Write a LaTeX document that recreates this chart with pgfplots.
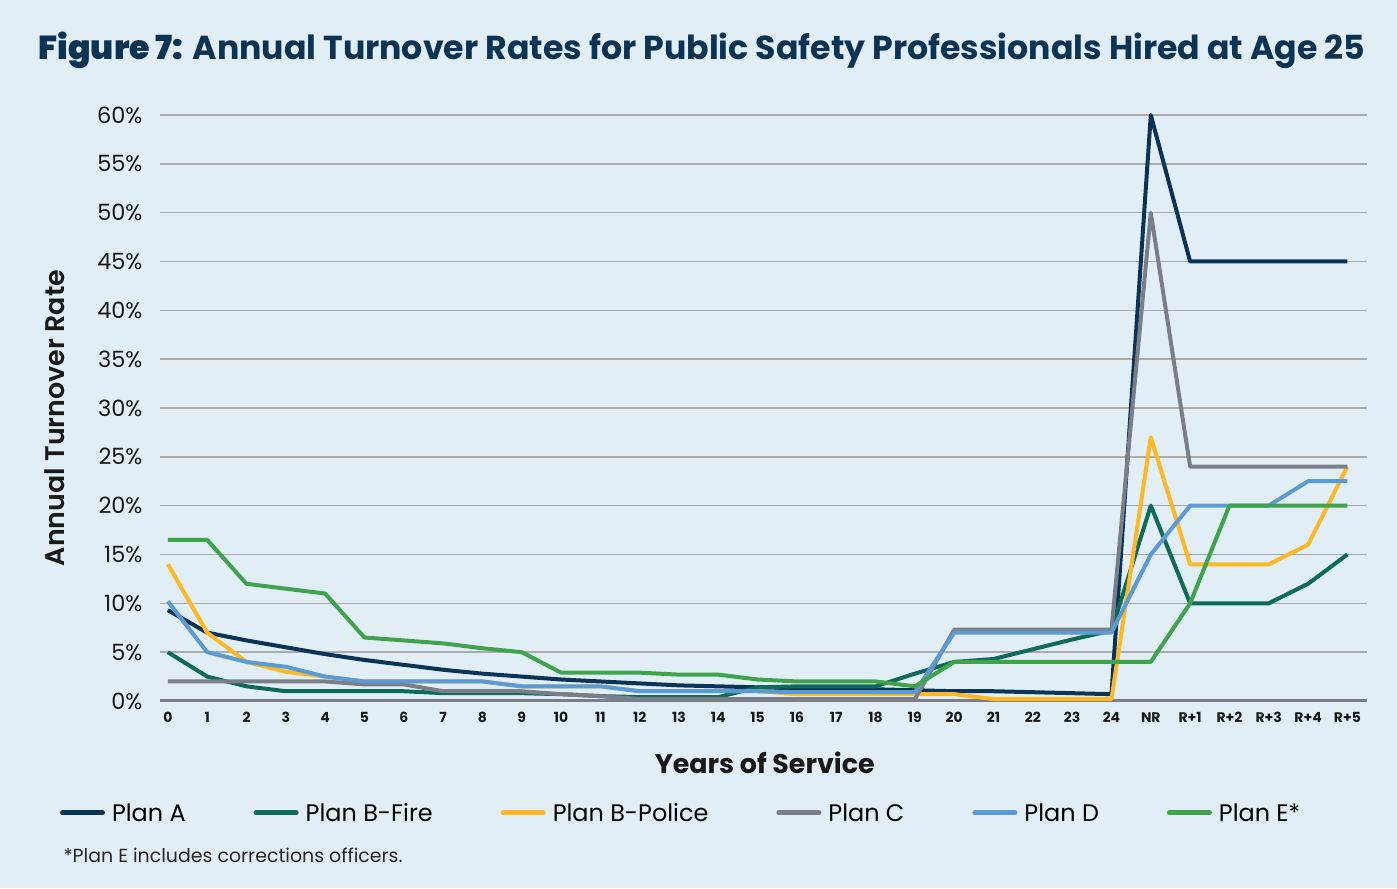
\documentclass[border=0pt]{standalone}
\usepackage{fontspec}
\setmainfont{Poppins}
\newfontfamily\popsb{Poppins SemiBold}
\newfontfamily\popxb{Poppins ExtraBold}
\usepackage{pgfplots}
\usepackage{pgfplotstable}
\pgfplotsset{compat=1.18}
\definecolor{bgc}{HTML}{E1EEF5}
\definecolor{cA}{HTML}{0B3356}
\definecolor{cBF}{HTML}{0E6B5A}
\definecolor{cBP}{HTML}{FDB825}
\definecolor{cC}{HTML}{7A7F87}
\definecolor{cD}{HTML}{5B9BD5}
\definecolor{cE}{HTML}{3FA34D}
\definecolor{gridc}{HTML}{ABABAB}
\definecolor{titc}{HTML}{0B3354}
\pgfplotstableread{
x A BF BP C D E
0 9.3 5.0 14.0 2.0 10.2 16.5
1 7.0 2.5 7.0 2.0 5.0 16.5
2 6.2 1.5 4.0 2.0 4.0 12.0
3 5.5 1.0 3.0 2.0 3.5 11.5
4 4.8 1.0 2.5 2.0 2.5 11.0
5 4.2 1.0 2.0 1.7 2.0 6.5
6 3.7 1.0 2.0 1.7 2.0 6.2
7 3.2 0.8 2.0 1.0 2.0 5.9
8 2.8 0.8 2.0 1.0 2.0 5.4
9 2.5 0.8 1.5 1.0 1.5 5.0
10 2.2 0.7 1.5 0.7 1.5 2.9
11 2.0 0.5 1.5 0.5 1.5 2.9
12 1.8 0.4 1.0 0.2 1.0 2.9
13 1.6 0.4 1.0 0.2 1.0 2.7
14 1.5 0.4 1.0 0.2 1.0 2.7
15 1.4 1.4 1.0 0.2 1.0 2.2
16 1.3 1.5 0.7 0.2 0.9 2.0
17 1.2 1.5 0.7 0.2 0.9 2.0
18 1.2 1.5 0.7 0.2 0.9 2.0
19 1.1 2.8 0.7 0.2 0.9 1.5
20 1.0 4.0 0.7 7.3 7.0 4.0
21 1.0 4.3 0.2 7.3 7.0 4.0
22 0.9 5.3 0.2 7.3 7.0 4.0
23 0.8 6.3 0.2 7.3 7.0 4.0
24 0.7 7.2 0.2 7.3 7.0 4.0
25 60.0 20.0 27.0 50.0 15.0 4.0
26 45.0 10.0 14.0 24.0 20.0 10.0
27 45.0 10.0 14.0 24.0 20.0 20.0
28 45.0 10.0 14.0 24.0 20.0 20.0
29 45.0 12.0 16.0 24.0 22.5 20.0
30 45.0 15.0 24.0 24.0 22.5 20.0
}\data
\begin{document}
\begin{tikzpicture}[x=1bp,y=1bp]
\useasboundingbox (0,0) rectangle (1397,888);
\fill[bgc] (0,0) rectangle (1397,888);
\node[text=titc, font=\fontsize{33.3}{38}\selectfont\bfseries] at (702,838) {{\popxb Figure 7:} Annual Turnover Rates for Public Safety Professionals Hired at Age 25};
\node[anchor=west, text=black!85, font=\fontsize{19}{22}\selectfont] at (60,33) {*Plan E includes corrections officers.};
\begin{axis}[
  at={(160bp,187bp)}, anchor=south west,
  scale only axis, width=1207bp, height=586bp,
  xmin=-0.2, xmax=30.5, ymin=0, ymax=60,
  axis x line=bottom, axis y line=left,
  x axis line style={-, color=cC, line width=3bp},
  y axis line style={draw=none},
  ymajorgrids, grid style={color=gridc, line width=1.5bp},
  major tick length=0pt,
  ytick={0,5,...,60},
  yticklabels={0\%,5\%,10\%,15\%,20\%,25\%,30\%,35\%,40\%,45\%,50\%,55\%,60\%},
  xtick={0,...,30},
  xticklabels={0,1,2,3,4,5,6,7,8,9,10,11,12,13,14,15,16,17,18,19,20,21,22,23,24,NR,R+1,R+2,R+3,R+4,R+5},
  yticklabel style={font=\fontsize{22.5}{26}\selectfont, text=black!90, xshift=-14bp},
  xticklabel style={font=\fontsize{14}{16}\selectfont\bfseries, text=black!90, yshift=-8bp},
  xlabel={Years of Service},
  xlabel style={font=\fontsize{27}{30}\selectfont\bfseries, text=black!90, at={(axis description cs:0.501,-0.106)}, anchor=center},
  ylabel={Annual Turnover Rate},
  ylabel style={font=\fontsize{27}{30}\selectfont\popsb, text=black!90, at={(axis description cs:-0.087,0.483)}, anchor=center},
  clip=false,
  every axis plot/.append style={line width=4bp, line join=round},
  legend columns=6,
  legend style={at={(axis description cs:-0.083,-0.191)}, anchor=west, draw=none, fill=none,
    font=\fontsize{24}{28}\selectfont, inner sep=0pt,
    /tikz/every even column/.append style={column sep=66bp},
    /tikz/every odd column/.append style={column sep=5bp}},
  legend cell align=left,
  legend image code/.code={\draw[#1, line width=5bp, line cap=round] (0bp,0bp) -- (40bp,0bp);},
]
\addplot[cA] table[x=x,y=A] {\data}; \addlegendentry{Plan A}
\addplot[cBF] table[x=x,y=BF] {\data}; \addlegendentry{Plan B-Fire}
\addplot[cBP] table[x=x,y=BP] {\data}; \addlegendentry{Plan B-Police}
\addplot[cC] table[x=x,y=C] {\data}; \addlegendentry{Plan C}
\addplot[cD] table[x=x,y=D] {\data}; \addlegendentry{Plan D}
\addplot[cE] table[x=x,y=E] {\data}; \addlegendentry{Plan E*}
\end{axis}
\end{tikzpicture}
\end{document}
